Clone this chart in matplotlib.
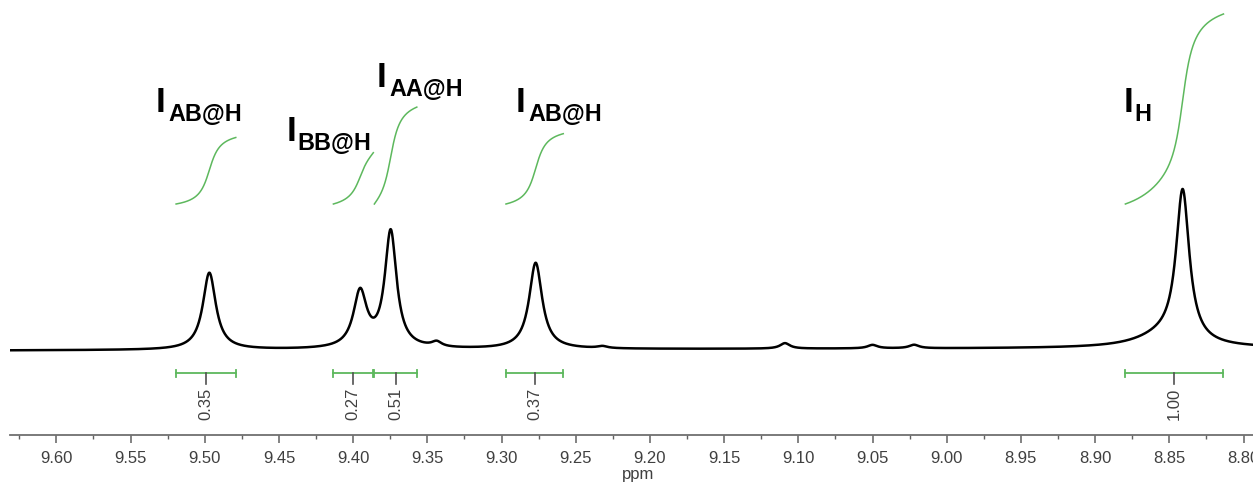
import numpy as np
import matplotlib
matplotlib.use('Agg')
import matplotlib.pyplot as plt
from matplotlib.ticker import MultipleLocator, FormatStrFormatter

# ---------------- data ----------------
# spectrum components (ppm position, height, half width at half max in ppm)
peak_ppm = [9.4969, 9.3953, 9.3747, 9.2770, 8.8410, 8.8540, 9.3437, 9.1090, 9.0500, 9.0220, 9.2320]
peak_height = [77.0, 55.5, 116.5, 86.2, 151.0, 11.0, 5.0, 5.5, 3.5, 3.5, 2.0]
peak_hwhm = [0.0053, 0.0054, 0.0048, 0.0053, 0.0054, 0.022, 0.004, 0.004, 0.004, 0.004, 0.004]
baseline_ppm = [9.6311, 8.7936]
baseline_level = [-1.5, 1.0]

# integrals
integral_labels = ['0.35', '0.27', '0.51', '0.37', '1.00']
integral_values = [0.35, 0.27, 0.51, 0.37, 1.00]
integral_start = [9.5193, 9.4133, 9.3857, 9.2970, 8.8796]
integral_end = [9.4791, 9.3864, 9.3571, 9.2584, 8.8135]

# annotation labels
label_main = ['I', 'I', 'I', 'I', 'I']
label_sub = ['AB@H', 'BB@H', 'AA@H', 'AB@H', 'H']

# ---------------- figure ----------------
W, H = 1253, 485
fig = plt.figure(figsize=(W / 100, H / 100), dpi=100)
ax_left, ax_bottom_px = 10.2, 435.7
ax = fig.add_axes([ax_left / W, (H - ax_bottom_px) / H, (W - ax_left) / W, ax_bottom_px / H])
x_left, x_right = 9.6311, 8.7936
ax.set_xlim(x_left, x_right)
ax.set_ylim(350 - ax_bottom_px, 350)

ppm = np.linspace(x_left, x_right, 4000)


def peaks_only(x):
    y = np.zeros_like(x)
    for p, h, g in zip(peak_ppm, peak_height, peak_hwhm):
        y += h * g ** 2 / ((x - p) ** 2 + g ** 2)
    return y


spec = peaks_only(ppm) + np.interp(ppm, baseline_ppm[::-1], baseline_level[::-1])
ax.plot(ppm, spec, color='black', lw=1.8, solid_joinstyle='round')

green = '#5DB85D'
gray_txt = '#404040'
PX_PER_UNIT = 190.0
curve_base = 350 - 205
bracket_y = 350 - 374.3

for lab, val, a, b in zip(integral_labels, integral_values, integral_start, integral_end):
    xs = np.linspace(a, b, 400)
    ys = peaks_only(xs)
    cum = np.concatenate([[0], np.cumsum(0.5 * (ys[1:] + ys[:-1]) * np.abs(np.diff(xs)))])
    cum = cum / cum[-1] * val * PX_PER_UNIT
    ax.plot(xs, curve_base + cum, color=green, lw=1.1)
    # bracket
    ax.plot([a, b], [bracket_y, bracket_y], color=green, lw=1.3)
    for e in (a, b):
        ax.plot([e, e], [bracket_y + 3.5, bracket_y - 3.5], color=green, lw=1.3)
    c = 0.5 * (a + b)
    ax.plot([c, c], [bracket_y, bracket_y - 10.7], color='#505050', lw=1.2)
    ax.text(c, 350 - 404, lab, rotation=90, ha='center', va='center',
            fontsize=12, color=gray_txt, family='Liberation Sans')

# axes styling
for s in ('top', 'left', 'right'):
    ax.spines[s].set_visible(False)
ax.spines['bottom'].set_color('#707070')
ax.spines['bottom'].set_linewidth(1.3)
ax.set_yticks([])
ax.xaxis.set_major_locator(MultipleLocator(0.05))
ax.xaxis.set_minor_locator(MultipleLocator(0.025))
ax.xaxis.set_major_formatter(FormatStrFormatter('%.2f'))
ax.tick_params(axis='x', which='major', length=6, width=1.1, color='#606060',
               direction='out', labelsize=12, labelcolor=gray_txt, pad=5)
ax.tick_params(axis='x', which='minor', length=3, width=1.0, color='#606060', direction='out')
for t in ax.get_xticklabels():
    t.set_family('Liberation Sans')
ax.patch.set_alpha(0)


def fx(x):
    return x / W


def fy(y):
    return 1 - y / H


fig.text(fx(638), fy(479), 'ppm', ha='center', va='baseline', fontsize=12,
         color=gray_txt, family='Liberation Sans')

# peak labels: (I glyph left x, I baseline y) in pixels
label_pos = [(158, 111.7), (289, 140.7), (379, 86.7), (518, 111.7), (1126, 111.7)]
for (x0, y0), m, s in zip(label_pos, label_main, label_sub):
    fig.text(fx(x0 - 2.2), fy(y0), m, ha='left', va='baseline', fontsize=25.2,
             fontweight='bold', family='Liberation Sans', color='black')
    fig.text(fx(x0 + 10 - (1.7 if s[0] in 'BH' else 0)), fy(y0 + 9.5), s, ha='left',
             va='baseline', fontsize=16.8, fontweight='bold', family='Liberation Sans',
             color='black')

fig.savefig('out.png', dpi=100)
